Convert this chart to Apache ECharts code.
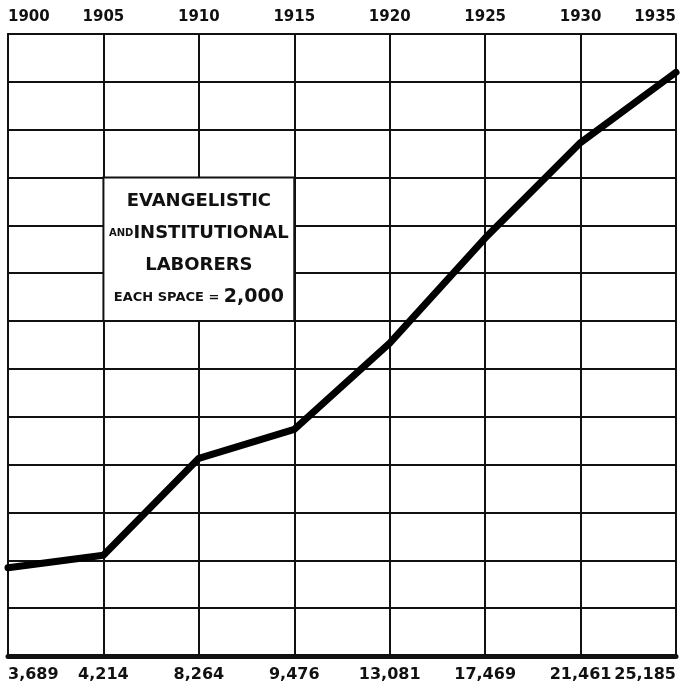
<!DOCTYPE html>
<html>
<head>
<meta charset="utf-8">
<script src="https://cdn.jsdelivr.net/npm/echarts@6/dist/echarts.min.js"></script>
<style>
  html, body { margin: 0; padding: 0; background: #fff; }
  #chart { width: 681px; height: 692px; }
</style>
</head>
<body>
<div id="chart"></div>
<script>
// years across the top, number of laborers under each year
var years = ['1900', '1905', '1910', '1915', '1920', '1925', '1930', '1935'];
var laborerLabels = ['3,689', '4,214', '8,264', '9,476', '13,081', '17,469', '21,461', '25,185'];
// heights of the drawn line (last point is drawn lower than its label in the original)
var laborers = [3689, 4214, 8264, 9476, 13081, 17469, 21461, 24400];

var yMin = 0, yMax = 26000, ySpace = 2000;
var ink = '#111';
var font = 'DejaVu Sans';

var myChart = echarts.init(document.getElementById('chart'));
var option = {
  backgroundColor: '#fff',
  animation: false,
  grid: { left: 8, right: 5, top: 34, bottom: 36 },
  xAxis: [{
    type: 'category',
    data: years,
    boundaryGap: false,
    position: 'bottom',
    axisLine: { show: true, lineStyle: { color: ink, width: 5 } },
    axisTick: { show: false },
    axisLabel: {
      margin: 11,
      fontFamily: font, fontWeight: 'bold', fontSize: 16, color: ink,
      alignMinLabel: 'left', alignMaxLabel: 'right',
      formatter: function (v, i) { return laborerLabels[i]; }
    },
    splitLine: { show: true, lineStyle: { color: ink, width: 2 } }
  }, {
    type: 'category',
    data: years,
    boundaryGap: false,
    position: 'top',
    axisLine: { show: true, lineStyle: { color: ink, width: 2 } },
    axisTick: { show: false },
    axisLabel: {
      margin: 9,
      fontFamily: font, fontWeight: 'bold', fontSize: 15, color: ink,
      alignMinLabel: 'left', alignMaxLabel: 'right'
    },
    splitLine: { show: false }
  }],
  yAxis: {
    type: 'value',
    min: yMin, max: yMax, interval: ySpace,
    axisLine: { show: true, lineStyle: { color: ink, width: 2 } },
    axisTick: { show: false },
    axisLabel: { show: false },
    splitLine: { show: true, lineStyle: { color: ink, width: 2 } }
  },
  series: [{
    type: 'line',
    data: laborers,
    symbol: 'none',
    lineStyle: { color: '#000', width: 7, join: 'round', cap: 'round' },
    z: 5,
    markArea: {
      silent: true,
      itemStyle: { color: '#fff', opacity: 1, borderColor: ink, borderWidth: 2 },
      label: {
        show: true,
        position: 'inside',
        color: ink,
        fontFamily: font,
        lineHeight: 32,
        formatter: '{big|EVANGELISTIC}\n{small|AND}{big|INSTITUTIONAL}\n{big|LABORERS}\n{mid|EACH SPACE = }{num|2,000}',
        rich: {
          big: { fontFamily: font, fontWeight: 'bold', fontSize: 18, color: ink, lineHeight: 32 },
          small: { fontFamily: font, fontWeight: 'bold', fontSize: 10, color: ink, lineHeight: 32 },
          mid: { fontFamily: font, fontWeight: 'bold', fontSize: 13, color: ink, lineHeight: 32 },
          num: { fontFamily: font, fontWeight: 'bold', fontSize: 19, color: ink, lineHeight: 32 }
        }
      },
      data: [[{ xAxis: '1905', yAxis: 20000 }, { xAxis: '1915', yAxis: 14000 }]]
    }
  }]
};

myChart.setOption(option);
</script>
</body>
</html>
